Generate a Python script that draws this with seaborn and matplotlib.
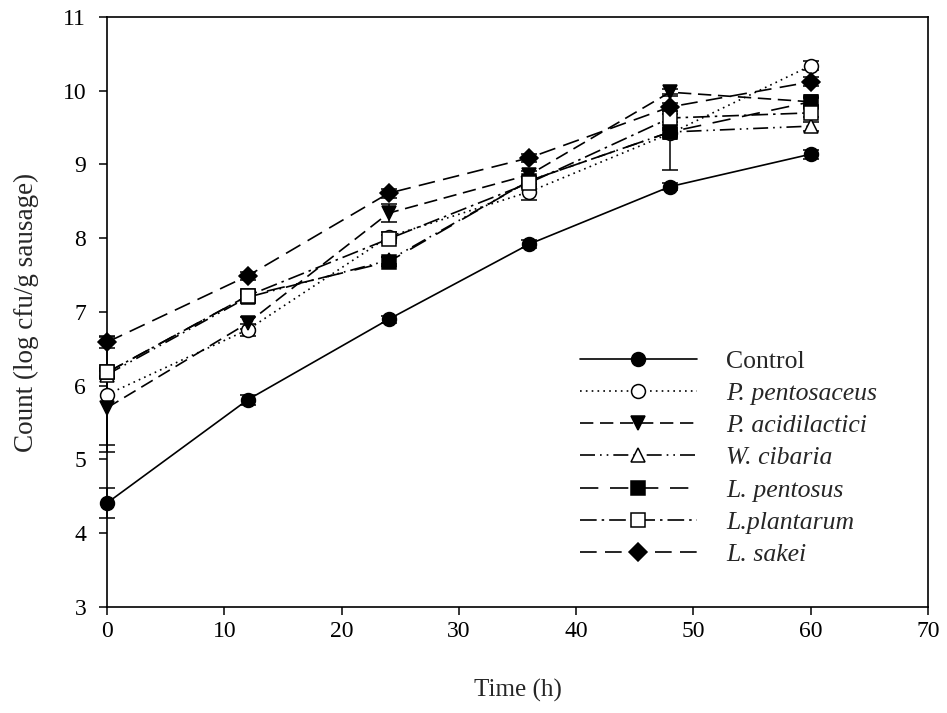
import matplotlib
matplotlib.use("Agg")
import matplotlib.pyplot as plt
import numpy as np
import pandas as pd
import seaborn as sns

# sampling times (h)
time_h = [0, 12, 24, 36, 48, 60]

series_names = ["Control", "P. pentosaceus", "P. acidilactici", "W. cibaria",
                "L. pentosus", "L.plantarum", "L. sakei"]

control = [4.41, 5.81, 6.90, 7.92, 8.70, 9.14]
pentosaceus = [5.88, 6.76, 8.02, 8.63, 9.42, 10.34]
acidilactici = [5.70, 6.85, 8.34, 8.86, 9.98, 9.85]
cibaria = [6.15, 7.20, 7.70, 8.78, 9.44, 9.52]
pentosus = [6.18, 7.22, 7.68, 8.78, 9.44, 9.85]
plantarum = [6.18, 7.22, 7.99, 8.75, 9.63, 9.70]
sakei = [6.59, 7.49, 8.61, 9.09, 9.78, 10.12]

# standard deviations
control_sd = [0.20, 0.07, 0.05, 0.05, 0.05, 0.06]
pentosaceus_sd = [0.78, 0.08, 0.06, 0.11, 0.05, 0.06]
acidilactici_sd = [0.50, 0.08, 0.12, 0.05, 0.05, 0.05]
cibaria_sd = [0.05, 0.05, 0.05, 0.05, 0.05, 0.06]
pentosus_sd = [0.05, 0.05, 0.06, 0.05, 0.51, 0.06]
plantarum_sd = [0.06, 0.06, 0.06, 0.06, 0.06, 0.06]
sakei_sd = [0.08, 0.05, 0.06, 0.05, 0.06, 0.06]

values = [control, pentosaceus, acidilactici, cibaria, pentosus, plantarum, sakei]
errors = [control_sd, pentosaceus_sd, acidilactici_sd, cibaria_sd,
          pentosus_sd, plantarum_sd, sakei_sd]

styles = [
    dict(marker="o", mfc="black", ls="-"),
    dict(marker="o", mfc="white", ls=(0, (1, 2.5))),
    dict(marker="v", mfc="black", ls=(0, (8, 4))),
    dict(marker="^", mfc="white", ls=(0, (9, 3, 1, 3, 1, 3))),
    dict(marker="s", mfc="black", ls=(0, (11, 7))),
    dict(marker="s", mfc="white", ls=(0, (10, 3, 1.5, 3))),
    dict(marker="D", mfc="black", ls=(0, (10, 5))),
]

sns.set_style("ticks", {"axes.edgecolor": "black", "xtick.color": "black",
                        "ytick.color": "black"})
plt.rcParams["font.family"] = ["Liberation Serif", "DejaVu Serif"]

fig = plt.figure(figsize=(9.47, 7.13), dpi=100)
ax = fig.add_axes([0.113, 0.1487, 0.867, 0.8275])

for name, y, err, st in zip(series_names, values, errors, styles):
    df = pd.DataFrame({"Time": time_h, "Count": y})
    eb = ax.errorbar(df["Time"], df["Count"], yerr=err, fmt="none", ecolor="black",
                     elinewidth=1.1, capsize=6, capthick=1.1, zorder=2)
    for child in eb.get_children():
        child.set_clip_on(False)
    ms = 9.5 if st["marker"] == "D" else 10
    sns.lineplot(data=df, x="Time", y="Count", ax=ax, color="black",
                 linestyle=st["ls"], linewidth=1.2, marker=st["marker"],
                 markersize=ms, markerfacecolor=st["mfc"],
                 markeredgecolor="black", markeredgewidth=1.1,
                 label=name, zorder=3, clip_on=False)

ax.set_xlim(0, 70)
ax.set_ylim(3, 11)
ax.set_xticks(np.arange(0, 71, 10))
ax.set_yticks(np.arange(3, 12, 1))
ax.tick_params(direction="out", length=6, width=1.1, labelsize=17)
ax.tick_params(axis="x", pad=4)
ax.tick_params(axis="y", pad=9)
for sp in ax.spines.values():
    sp.set_linewidth(1.2)

ax.set_xlabel("Time (h)", fontsize=18, labelpad=27)
ax.set_ylabel("Count (log cfu/g sausage)", fontsize=19.5, labelpad=17)

leg = ax.legend(loc="upper left", bbox_to_anchor=(0.56, 0.458), frameon=False,
                fontsize=18.5, handlelength=4.55, handletextpad=1.15,
                labelspacing=0.36, borderpad=0, numpoints=1)
for t in leg.get_texts()[1:]:
    t.set_fontstyle("italic")

fig.savefig("out.png", dpi=100)
